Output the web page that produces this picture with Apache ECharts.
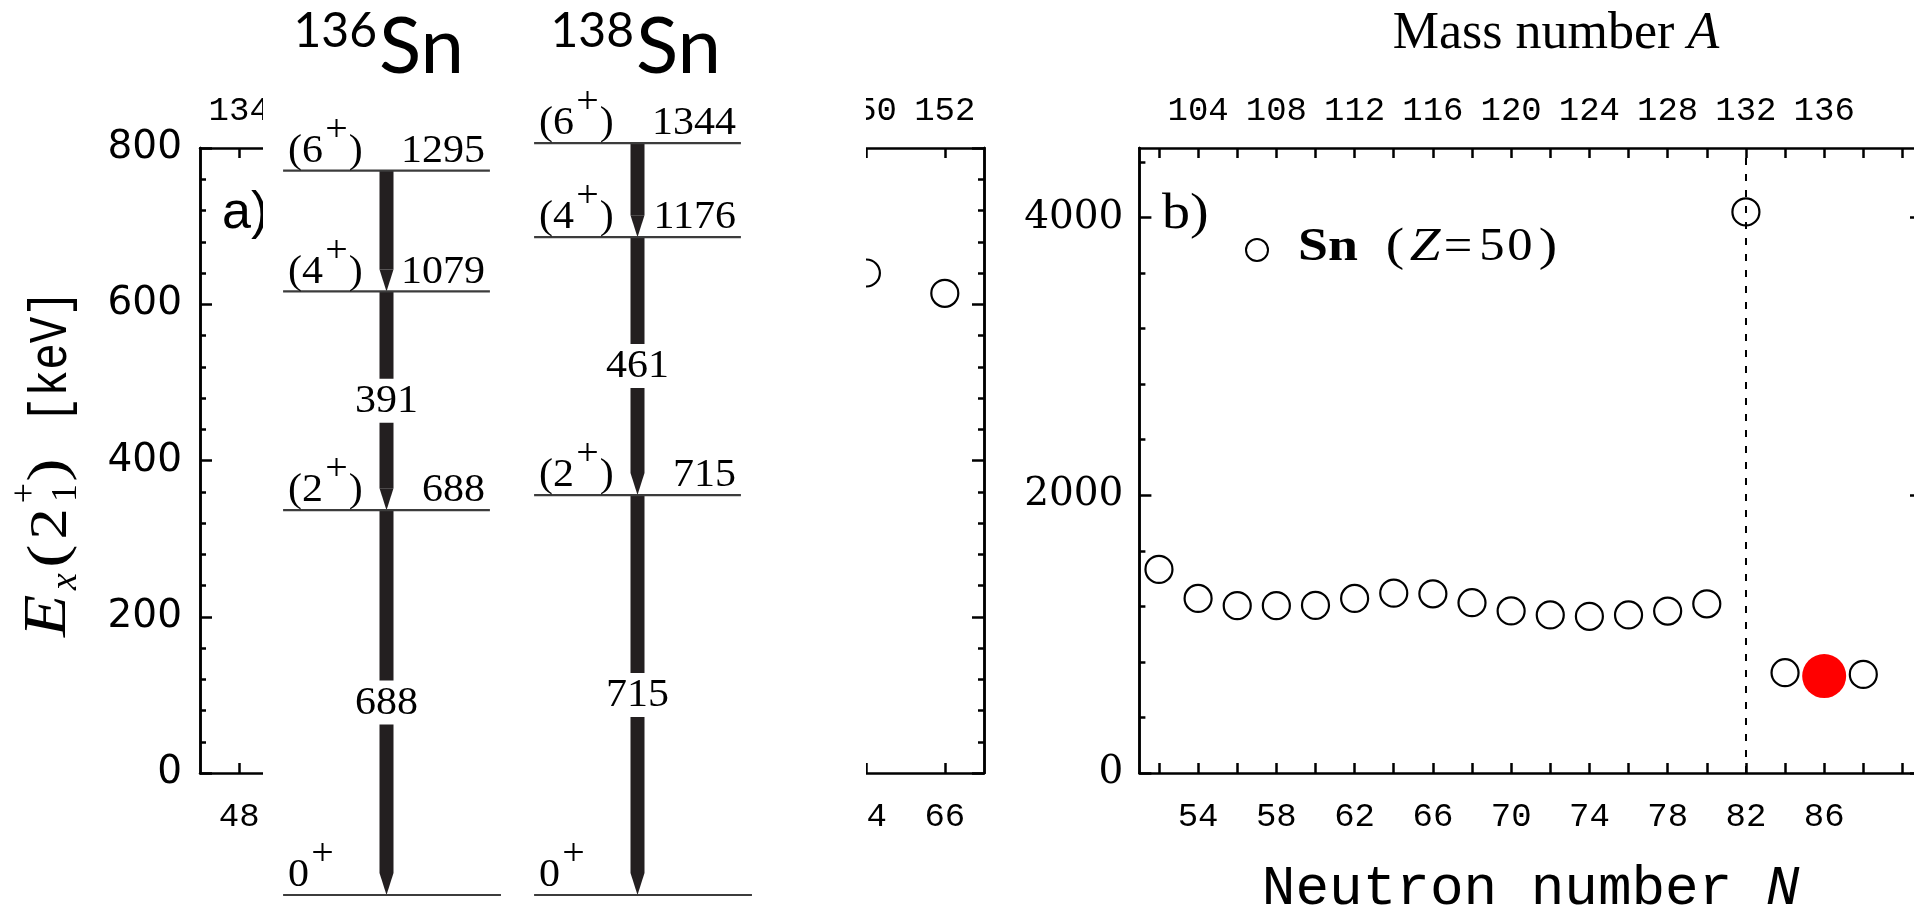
<!DOCTYPE html>
<html><head><meta charset="utf-8">
<script src="https://cdn.jsdelivr.net/npm/echarts@6/dist/echarts.min.js"></script>
<style>html,body{margin:0;padding:0;background:#fff;}#c{width:1914px;height:908px;}</style>
</head><body><div id="c"></div>
<script>
// ---------------- data ----------------
// panel b: Sn (Z=50) first 2+ energies vs neutron number
const snN = [52, 54, 56, 58, 60, 62, 64, 66, 68, 70, 72, 74, 76, 78, 80, 82, 84, 86, 88];
const snE = [1466, 1257, 1205, 1205, 1207, 1257, 1295, 1290, 1226, 1167, 1138, 1128, 1138, 1166, 1218, 4040, 722, 698, 710];
const highlightN = 86;
const dashedN = 82;
// panel a: visible points
const panelAN = [64, 66];
const panelAE = [640, 614];
// level schemes
const nuclei = ['136Sn', '138Sn'];
const massNumbers = ['136', '138'];
const levels136 = [0, 688, 1079, 1295];
const levels138 = [0, 715, 1176, 1344];
const spins = ['0+', '(2+)', '(4+)', '(6+)'];
const labelledGammas = 2;
// ticks / labels
const aTicksN = [48, 50, 52, 54, 56, 58, 60, 62, 64, 66];
const aTicksA = [134, 136, 138, 140, 142, 144, 146, 148, 150, 152];
const aTicksY = [0, 200, 400, 600, 800];
const aMinorY = [40, 80, 120, 160, 240, 280, 320, 360, 440, 480, 520, 560, 640, 680, 720, 760];
const bTicksN = [52, 54, 56, 58, 60, 62, 64, 66, 68, 70, 72, 74, 76, 78, 80, 82, 84, 86, 88, 90];
const bLabelsN = [54, 58, 62, 66, 70, 74, 78, 82, 86];
const bTicksA = [102, 104, 106, 108, 110, 112, 114, 116, 118, 120, 122, 124, 126, 128, 130, 132, 134, 136, 138, 140];
const bLabelsA = [104, 108, 112, 116, 120, 124, 128, 132, 136];
const bTicksY = [0, 2000, 4000];
const bMinorY = [400, 800, 1200, 1600, 2400, 2800, 3200, 3600, 4400];

// ---------------- helpers ----------------
const SERIF = '"Liberation Serif", "Times New Roman", serif';
const MONO = '"Liberation Mono", monospace';
const mctx = document.createElement('canvas').getContext('2d');
function fnt(size, o) { o = o || {}; return [o.style, o.weight, size + 'px', o.family || SERIF].filter(Boolean).join(' '); }
function tw(t, font) { mctx.font = font; return mctx.measureText(t).width; }
function txt(t, x, yBase, size, o) {
  o = o || {};
  const al = o.align || 'left';
  const el = { type: 'text', x: x, y: yBase - 0.31 * size, scaleX: o.sx || 1,
    style: { text: t, font: fnt(size, o), fill: o.fill || '#000', align: al, textAlign: al, verticalAlign: 'middle', textVerticalAlign: 'middle' } };
  if (o.z != null) el.z = o.z;
  return el;
}

const LS = 40, SUPS = 38, SX = 1.05;
const levelData = [];
[levels136, levels138].forEach((lv, ci) => lv.forEach((E, si) => levelData.push([ci, E, si])));
const gammaData = [];
[levels136, levels138].forEach((lv, ci) => {
  for (let i = lv.length - 1; i > 0; i--) gammaData.push([ci, lv[i], lv[i - 1], (i - 1) < labelledGammas ? 1 : 0]);
});

function renderLevel(params, api) {
  const ci = api.value(0), E = api.value(1), si = api.value(2);
  const p = api.coord([ci, E]);
  const bw = api.size([1, 0])[0];
  const ground = E === 0;
  const x0 = p[0] - 0.412 * bw, x1 = p[0] + (ground ? 0.456 : 0.412) * bw, y = p[1];
  const base = y - 7;
  const s = spins[si];
  const k = s.indexOf('+');
  const pre = s.slice(0, k), post = s.slice(k + 1);
  const wPre = tw(pre, fnt(LS)), wPlus = tw('+', fnt(SUPS));
  const xs = x0 + 5;
  const els = [
    { type: 'line', shape: { x1: x0, y1: y, x2: x1, y2: y }, style: { stroke: '#3c3c3c', lineWidth: 2.2 } },
    txt(pre, xs, base, LS, { sx: SX }),
    txt('+', xs + SX * (wPre + 2), base - 21, SUPS, { sx: SX })
  ];
  if (post) els.push(txt(post, xs + SX * (wPre + 3 + wPlus), base, LS, { sx: SX }));
  if (!ground) els.push(txt(String(E), x1 - 5, base, LS, { sx: SX, align: 'right' }));
  return { type: 'group', children: els };
}

function renderGamma(params, api) {
  const ci = api.value(0), Eu = api.value(1), El = api.value(2), lab = api.value(3);
  const pu = api.coord([ci, Eu]), pl = api.coord([ci, El]);
  const cx = pu[0], hw = 7, tip = 22, yT = pu[1], yB = pl[1];
  const fill = '#231f20';
  const rect = (a, b) => ({ type: 'rect', shape: { x: cx - hw, y: a, width: 2 * hw, height: b - a }, style: { fill: fill } });
  const els = [];
  if (lab) {
    const ym = (yT + yB) / 2;
    els.push(rect(yT, ym - 22), rect(ym + 22, yB - tip), txt(String(Eu - El), cx, ym + 13, LS, { sx: SX, align: 'center' }));
  } else {
    els.push(rect(yT, yB - tip));
  }
  els.push({ type: 'polygon', shape: { points: [[cx - hw, yB - tip], [cx + hw, yB - tip], [cx, yB]] }, style: { fill: fill } });
  return { type: 'group', children: els };
}

// ---------------- axes ----------------
const AX = { color: '#000', width: 2.5 };
function xAx(grid, pos, min, max, ticks, labels, margin, extra) {
  return Object.assign({
    gridIndex: grid, type: 'value', position: pos, min: min, max: max,
    axisLine: { onZero: false, lineStyle: AX },
    axisTick: { inside: true, length: 10, customValues: ticks, lineStyle: AX },
    axisLabel: { customValues: labels, margin: margin, color: '#000', fontFamily: MONO, fontSize: 34, formatter: v => String(v) },
    splitLine: { show: false }
  }, extra || {});
}
function yAx(grid, pos, min, max, ticks, len, labels, lab) {
  return {
    gridIndex: grid, type: 'value', position: pos, min: min, max: max,
    axisLine: { onZero: false, lineStyle: AX },
    axisTick: { inside: true, length: len, customValues: ticks, lineStyle: AX },
    axisLabel: labels ? Object.assign({ customValues: labels, color: '#000', formatter: v => String(v) }, lab) : { show: false },
    splitLine: { show: false }
  };
}

const circleStyle = { color: 'rgba(255,255,255,0)', borderColor: '#000', borderWidth: 2.2, opacity: 1 };

const option = {
  animation: false,
  backgroundColor: '#fff',
  grid: [
    { left: 200, top: 148, width: 784, height: 625, outerBoundsMode: 'none', containLabel: false },
    { left: 261, top: 0, width: 502, height: 895, outerBoundsMode: 'none', containLabel: false },
    { left: 1139.4, top: 148, width: 782.6, height: 625, outerBoundsMode: 'none', containLabel: false }
  ],
  xAxis: [
    xAx(0, 'bottom', 47, 67, aTicksN, aTicksN, 27),
    xAx(0, 'top', 133, 153, aTicksA, aTicksA, 20),
    { gridIndex: 1, type: 'category', data: nuclei, show: false },
    xAx(2, 'bottom', 51, 91, bTicksN, bLabelsN, 27, {
      name: '{r|Neutron number }{i|N}', nameLocation: 'middle', nameGap: 88,
      nameTextStyle: { rich: {
        r: { fontFamily: MONO, fontSize: 56, color: '#000' },
        i: { fontFamily: MONO, fontSize: 56, fontStyle: 'italic', color: '#000' } } }
    }),
    xAx(2, 'top', 101, 141, bTicksA, bLabelsA, 20)
  ],
  yAxis: [
    yAx(0, 'left', 0, 800, aTicksY, 12, aTicksY, { margin: 18, fontFamily: '"DejaVu Sans", sans-serif', fontSize: 39 }),
    yAx(0, 'right', 0, 800, aTicksY, 12, null),
    { gridIndex: 1, type: 'value', min: 0, max: 1600, show: false },
    yAx(2, 'left', 0, 4500, bTicksY, 12, bTicksY, { margin: 16, fontFamily: '"DejaVu Serif", serif', fontSize: 39 }),
    yAx(2, 'left', 0, 4500, bMinorY, 6, null),
    yAx(2, 'right', 0, 4500, bTicksY, 12, null),
    yAx(2, 'right', 0, 4500, bMinorY, 6, null),
    yAx(0, 'left', 0, 800, aMinorY, 6, null),
    yAx(0, 'right', 0, 800, aMinorY, 6, null)
  ],
  series: [
    {
      type: 'scatter', xAxisIndex: 0, yAxisIndex: 0, z: 2,
      symbol: 'circle', symbolSize: 27, itemStyle: circleStyle,
      data: panelAN.map((n, i) => [n, panelAE[i]])
    },
    { type: 'custom', xAxisIndex: 2, yAxisIndex: 2, z: 9, renderItem: renderGamma, data: gammaData, silent: true },
    { type: 'custom', xAxisIndex: 2, yAxisIndex: 2, z: 10, renderItem: renderLevel, data: levelData, silent: true },
    {
      type: 'scatter', xAxisIndex: 3, yAxisIndex: 3, z: 3,
      symbol: 'circle', symbolSize: 27, itemStyle: circleStyle,
      data: snN.map((n, i) => n === highlightN
        ? { value: [n, snE[i]], symbolSize: 44, itemStyle: { color: '#ff0000', borderWidth: 0, opacity: 1 } }
        : [n, snE[i]]),
      markLine: {
        silent: true, symbol: 'none', label: { show: false },
        lineStyle: { color: '#000', width: 2, type: [7, 9] },
        data: [{ xAxis: dashedN }]
      }
    }
  ],
  graphic: [
    // white cover of the level-scheme inset
    { type: 'rect', z: 5, shape: { x: 263, y: 0, width: 603, height: 908 }, style: { fill: '#fff' } },
    txt('a)', 222, 230, 52, { family: '"Liberation Sans", Arial, sans-serif', z: 1 }),
    // level-scheme titles
    Object.assign(txt(massNumbers[0], 377, 46, 48, { family: 'Lato, sans-serif', align: 'right' }), { z: 20 }),
    Object.assign(txt('Sn', 379, 72, 78, { family: 'Lato, sans-serif' }), { z: 20 }),
    Object.assign(txt(massNumbers[1], 634, 46, 48, { family: 'Lato, sans-serif', align: 'right' }), { z: 20 }),
    Object.assign(txt('Sn', 636, 72, 78, { family: 'Lato, sans-serif' }), { z: 20 }),
    // panel a y title
    { type: 'group', x: 68, y: 637, rotation: Math.PI / 2, z: 20, children: [
      txt('E', 0, 0, 62, { style: 'italic', sx: 1.12 }),
      txt('x', 47, 10, 38, { style: 'italic' }),
      txt('(', 81, 0, 54, { align: 'center', sx: 1.3 }),
      txt('2', 113, 0, 52, { align: 'center', sx: 1.2 }),
      txt('+', 144, -31, 36, { align: 'center' }),
      txt('1', 144, 10, 36, { align: 'center' }),
      txt(')', 167, 0, 54, { align: 'center', sx: 1.3 }),
      txt('[keV]', 214, 0, 54, { family: MONO, sx: 0.82 })
    ] },
    // panel b annotations
    Object.assign(txt('b)', 1162, 230, 50, { sx: 1.12 }), { z: 20 }),
    { type: 'circle', z: 20, shape: { cx: 1257, cy: 250, r: 11 }, style: { fill: 'rgba(0,0,0,0)', stroke: '#000', lineWidth: 2 } },
    Object.assign(txt('Sn', 1298, 262, 46, { weight: 'bold', sx: 1.17 }), { z: 20 }),
    Object.assign(txt('(', 1395, 262, 46, { align: 'center', sx: 1.2 }), { z: 20 }),
    Object.assign(txt('Z', 1425, 262, 46, { align: 'center', style: 'italic', sx: 1.2 }), { z: 20 }),
    Object.assign(txt('=', 1458, 262, 46, { align: 'center', sx: 1.1 }), { z: 20 }),
    Object.assign(txt('5', 1492, 262, 46, { align: 'center', sx: 1.1 }), { z: 20 }),
    Object.assign(txt('0', 1520, 262, 46, { align: 'center', sx: 1.1 }), { z: 20 }),
    Object.assign(txt(')', 1548, 262, 46, { align: 'center', sx: 1.2 }), { z: 20 }),
    { type: 'text', z: 20, x: 1556, y: 50 - 0.31 * 52, style: {
      text: '{r|Mass number }{i|A}', align: 'center', textAlign: 'center', verticalAlign: 'middle', textVerticalAlign: 'middle', fill: '#000',
      rich: { r: { font: fnt(52), fill: '#000' }, i: { font: fnt(52, { style: 'italic' }), fill: '#000' } } } }
  ]
};

const chart = echarts.init(document.getElementById('c'), null, { renderer: 'canvas' });
chart.setOption(option);
</script>
</body></html>
